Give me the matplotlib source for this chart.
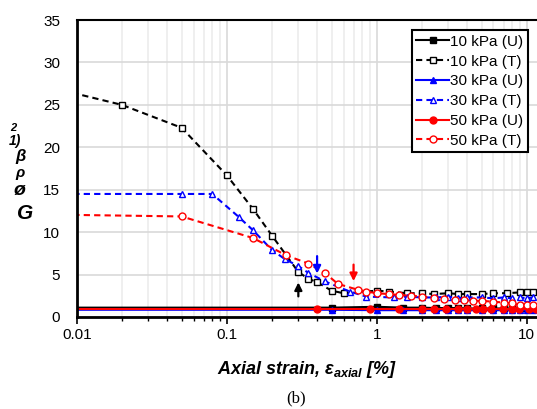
import matplotlib
matplotlib.use("Agg")
import matplotlib.pyplot as plt

plt.rcParams['font.family'] = ['Liberation Sans', 'DejaVu Sans']
plt.rcParams['mathtext.fontset'] = 'custom'
plt.rcParams['mathtext.it'] = 'Liberation Sans:italic:bold'
plt.rcParams['mathtext.rm'] = 'Liberation Sans:bold'

# 10 kPa
x10_u = [0.005, 0.5, 1.0, 1.5, 2.0, 2.5, 3.0, 3.5, 4.0, 5.0, 6.0, 7.0, 8.0, 9.0, 10.0, 11.0]
y10_u = [1.1, 1.1, 1.2, 1.1, 1.1, 1.05, 1.05, 1.05, 1.0, 1.0, 1.0, 1.0, 1.0, 1.0, 1.0, 1.0]
x10_t = [0.005, 0.02, 0.05, 0.1, 0.15, 0.2, 0.3, 0.35, 0.4, 0.5, 0.6, 1.0, 1.2, 1.6, 2.0,
         2.4, 3.0, 3.5, 4.0, 5.0, 6.0, 7.4, 9.0, 10.0, 11.0]
y10_t = [27.6, 25.0, 22.3, 16.7, 12.7, 9.6, 5.3, 4.5, 4.1, 3.1, 2.8, 3.1, 3.0, 2.8, 2.8,
         2.7, 2.8, 2.7, 2.7, 2.7, 2.8, 2.8, 2.9, 2.9, 2.9]

# 30 kPa
x30_u = [0.005, 0.5, 1.0, 1.5, 2.0, 2.5, 3.0, 3.5, 4.0, 5.0, 6.0, 7.0, 8.0, 9.0, 10.0, 11.0]
y30_u = [0.85, 0.85, 0.8, 0.8, 0.8, 0.8, 0.8, 0.8, 0.8, 0.8, 0.8, 0.8, 0.8, 0.8, 0.8, 0.8]
x30_t = [0.005, 0.05, 0.08, 0.12, 0.15, 0.2, 0.245, 0.3, 0.35, 0.45, 0.66, 0.85, 1.3, 1.6,
         2.0, 2.5, 3.0, 3.5, 4.0, 5.0, 6.0, 7.0, 8.0, 9.0, 10.0, 11.0]
y30_t = [14.5, 14.5, 14.5, 11.8, 10.2, 7.9, 6.8, 6.0, 5.2, 4.2, 3.0, 2.4, 2.3, 2.4,
         2.3, 2.3, 2.4, 2.2, 2.3, 2.3, 2.2, 2.3, 2.2, 2.3, 2.2, 2.3]

# 50 kPa
x50_u = [0.005, 0.4, 0.9, 1.4, 2.0, 2.4, 2.9, 3.5, 4.0, 4.6, 5.1, 5.8, 6.9, 8.0, 8.9, 10.4, 11.5]
y50_u = [0.95, 0.95, 0.95, 0.95, 0.95, 0.95, 0.95, 0.95, 0.95, 0.95, 0.95, 0.95, 0.95, 0.95,
         0.95, 0.95, 0.95]
x50_t = [0.005, 0.05, 0.15, 0.25, 0.35, 0.45, 0.55, 0.75, 0.85, 1.0, 1.2, 1.4, 1.7, 2.0,
         2.4, 2.8, 3.3, 3.8, 4.4, 5.0, 6.0, 7.0, 8.0, 9.0, 10.0, 11.0]
y50_t = [12.1, 11.85, 9.3, 7.25, 6.3, 5.2, 3.9, 3.2, 3.0, 2.8, 2.7, 2.6, 2.5, 2.4,
         2.2, 2.1, 2.0, 2.0, 1.9, 1.9, 1.8, 1.7, 1.6, 1.4, 1.4, 1.4]

# arrows (x, tail y, head y, colour)
arrows = [(0.3, 2.1, 4.4, 'black'), (0.4, 7.5, 4.8, '#0000ff'), (0.7, 6.5, 3.9, 'red')]

fig = plt.figure(figsize=(5.37, 4.09), dpi=100)
ax = fig.add_axes([0.143, 0.225, 0.857, 0.726])

dash = (0, (3, 2))
ms = 5
ax.plot(x10_u, y10_u, color='black', lw=1.5, marker='s', ms=ms, label='10 kPa (U)')
ax.plot(x10_t, y10_t, color='black', lw=1.5, ls=dash, marker='s', ms=ms, mfc='white',
        label='10 kPa (T)')
ax.plot(x30_u, y30_u, color='#0000ff', lw=1.5, marker='^', ms=ms, label='30 kPa (U)')
ax.plot(x30_t, y30_t, color='#0000ff', lw=1.5, ls=dash, marker='^', ms=ms, mfc='white',
        label='30 kPa (T)')
ax.plot(x50_u, y50_u, color='red', lw=1.5, marker='o', ms=ms, label='50 kPa (U)')
ax.plot(x50_t, y50_t, color='red', lw=1.5, ls=dash, marker='o', ms=ms, mfc='white',
        label='50 kPa (T)')

for xa, y0, y1, c in arrows:
    ax.annotate('', xy=(xa, y1), xytext=(xa, y0),
                arrowprops=dict(arrowstyle='-|>', color=c, lw=1.6, mutation_scale=11))

ax.set_xscale('log')
ax.set_xlim(0.01, 11.7)
ax.set_ylim(0, 35)
ax.set_yticks(range(0, 36, 5))
ax.set_xticks([0.01, 0.1, 1, 10])
ax.set_xticklabels(['0.01', '0.1', '1', '10'])
ax.grid(True, which='major', color='#d9d9d9', lw=1.2)
ax.grid(True, which='minor', axis='x', color='#ececec', lw=1.2)
ax.set_axisbelow(True)
ax.tick_params(axis='y', length=0, labelsize=11, pad=12)
ax.tick_params(axis='x', which='major', direction='out', length=5, width=1.2, labelsize=11, pad=3)
ax.tick_params(axis='x', which='minor', direction='out', length=3, width=1)
ax.spines['right'].set_visible(False)
ax.spines['left'].set_linewidth(2)
ax.spines['bottom'].set_linewidth(2)
ax.spines['top'].set_linewidth(1.5)

ax.set_xlabel(r'Axial strain, $\varepsilon_{axial}$ [%]', fontsize=13, fontweight='bold',
              fontstyle='italic', labelpad=12)

leg = ax.legend(loc='upper right', bbox_to_anchor=(0.98, 0.966), fontsize=11,
                fancybox=False, edgecolor='black', framealpha=1, handlelength=2.1,
                handletextpad=0.1, borderpad=0.3, labelspacing=0.38, borderaxespad=0)
leg.get_frame().set_linewidth(1.5)

# garbled vertical axis label as it appears
ylab = [('2', 0.024, 0.688, 8), ('1)', 0.027, 0.655, 10), ('β', 0.039, 0.617, 12),
        ('ρ', 0.037, 0.578, 11), ('ø', 0.037, 0.535, 14), ('G', 0.047, 0.479, 15)]
for s, xx, yy, fs in ylab:
    fig.text(xx, yy, s, fontsize=fs, fontweight='bold', fontstyle='italic',
             ha='center', va='center')

fig.text(0.551, 0.027, '(b)', fontsize=12, family='Liberation Serif', ha='center',
         va='center')

fig.savefig('out.png', dpi=100)
